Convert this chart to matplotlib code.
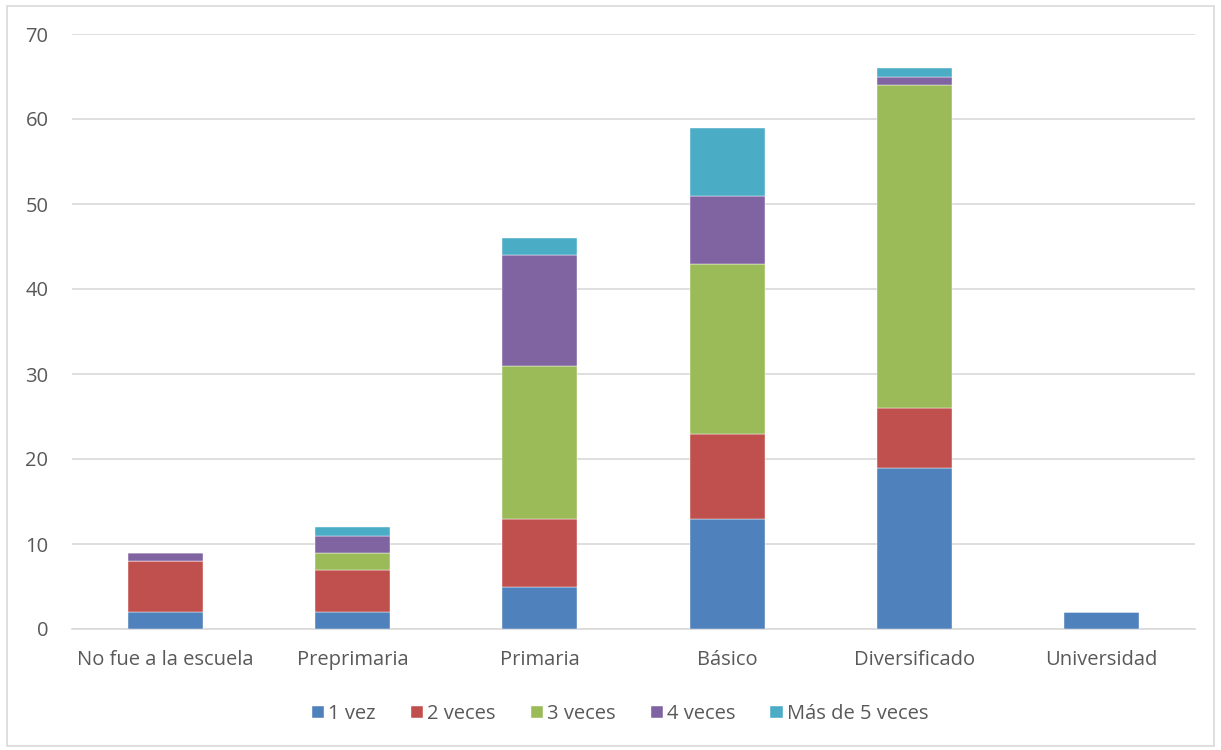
import matplotlib
matplotlib.use("Agg")
import matplotlib.pyplot as plt
from matplotlib.patches import Rectangle

categories = ["No fue a la escuela", "Preprimaria", "Primaria", "Básico", "Diversificado", "Universidad"]
series_names = ["1 vez", "2 veces", "3 veces", "4 veces", "Más de 5 veces"]
vez1 = [2, 2, 5, 13, 19, 2]
veces2 = [6, 5, 8, 10, 7, 0]
veces3 = [0, 2, 18, 20, 38, 0]
veces4 = [1, 2, 13, 8, 1, 0]
mas5 = [0, 1, 2, 8, 1, 0]
colors = ["#4F81BD", "#C0504D", "#9BBB59", "#8064A2", "#4BACC6"]
yticks = [0, 10, 20, 30, 40, 50, 60, 70]

plt.rcParams['font.family'] = ['Open Sans', 'DejaVu Sans']
fig = plt.figure(figsize=(12.21, 7.5), dpi=100)
ax = fig.add_axes([72/1221, 1 - 629/750, (1195-72)/1221, (629-34)/750])

x = list(range(len(categories)))
bottom = [0]*len(categories)
for name, vals, c in zip(series_names, [vez1, veces2, veces3, veces4, mas5], colors):
    ax.bar(x, vals, width=0.4, bottom=bottom, color=c, label=name, zorder=3,
           edgecolor='white', linewidth=0.3)
    bottom = [b + v for b, v in zip(bottom, vals)]

ax.set_xlim(-0.5, len(categories) - 0.5)
ax.set_ylim(0, 70)
ax.set_yticks(yticks)
ax.yaxis.grid(True, color='#D9D9D9', linewidth=1.2, zorder=0)
ax.set_xticks(x)
ax.set_xticklabels(categories)
for s in ['top', 'right', 'left']:
    ax.spines[s].set_visible(False)
ax.spines['bottom'].set_color('#D9D9D9')
ax.spines['bottom'].set_linewidth(1.2)
ax.tick_params(axis='both', length=0, labelsize=14.5, colors='#595959')
ax.tick_params(axis='x', pad=15)
ax.tick_params(axis='y', pad=17)

leg = fig.legend(loc='center', bbox_to_anchor=(620/1221, 1 - 714/750), ncol=5, frameon=False,
                 fontsize=14.5, handlelength=0.6, handleheight=0.6, handletextpad=0.2,
                 columnspacing=1.75, labelcolor='#595959')

fig.patches.append(Rectangle((7/1221, 1 - 746/750), 1 - 14/1221, 740/750, transform=fig.transFigure,
                             fill=False, edgecolor='#D9D9D9', linewidth=1.2))
fig.savefig("out.png", dpi=100, facecolor='white')
